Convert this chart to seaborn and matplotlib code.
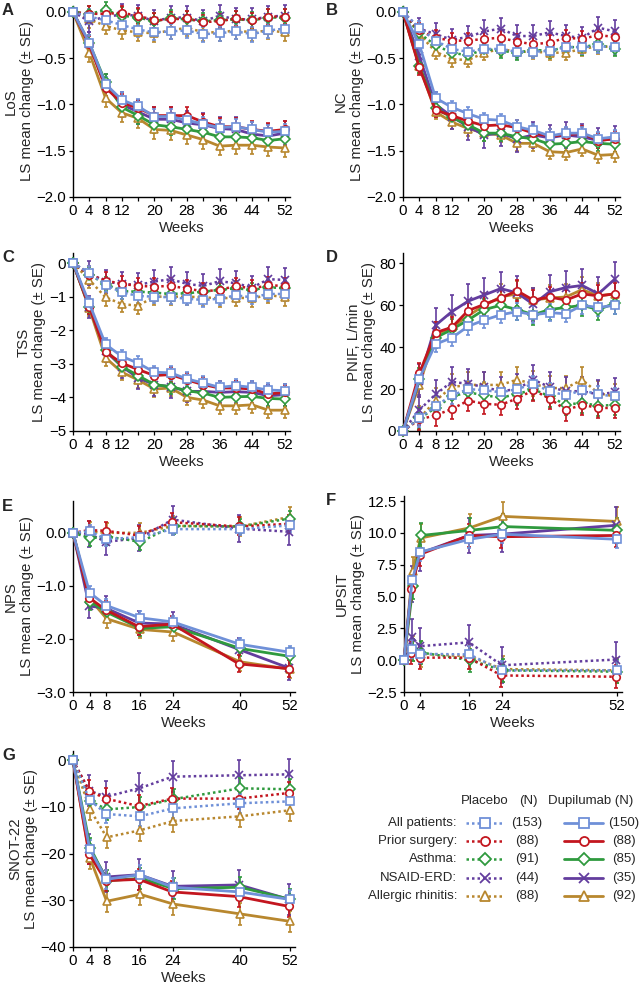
import matplotlib.pyplot as plt
import numpy as np
import pandas as pd
import seaborn as sns
from matplotlib.lines import Line2D

sns.set_theme(style="ticks")
plt.rcParams['font.family'] = ['Liberation Sans', 'DejaVu Sans']
plt.rcParams['font.size'] = 10.8

groups = ["All patients", "Prior surgery", "Asthma", "NSAID-ERD", "Allergic rhinitis"]
n_placebo = [153, 88, 91, 44, 88]
n_dupilumab = [150, 88, 85, 35, 92]
colors = ["#6f90d8", "#c3161f", "#2f9a3e", "#633d9e", "#b8872e"]
markers = ["s", "o", "D", "x", "^"]

weeks_all = [0, 4, 8, 12, 16, 20, 24, 28, 32, 36, 40, 44, 48, 52]
weeks_nps = [0, 4, 8, 16, 24, 40, 52]
weeks_upsit = [0, 2, 4, 16, 24, 52]

# A - LoS
los_pbo = [
    [0, -0.05, -0.09, -0.14, -0.19, -0.22, -0.21, -0.20, -0.24, -0.23, -0.21, -0.24, -0.20, -0.18],
    [0, -0.02, -0.02, -0.01, -0.04, -0.09, -0.08, -0.07, -0.11, -0.10, -0.07, -0.09, -0.05, -0.05],
    [0, -0.02, 0.02, -0.04, -0.06, -0.10, -0.07, -0.08, -0.10, -0.09, -0.08, -0.09, -0.06, -0.06],
    [0, -0.10, -0.05, -0.03, -0.04, -0.10, -0.06, -0.06, -0.10, -0.04, -0.08, -0.08, -0.05, -0.04],
    [0, -0.08, -0.15, -0.20, -0.22, -0.23, -0.20, -0.17, -0.22, -0.22, -0.20, -0.22, -0.20, -0.22],
]
los_dup = [
    [0, -0.33, -0.78, -0.95, -1.02, -1.13, -1.13, -1.17, -1.21, -1.25, -1.24, -1.27, -1.30, -1.29],
    [0, -0.35, -0.82, -0.98, -1.04, -1.12, -1.12, -1.12, -1.19, -1.24, -1.24, -1.27, -1.29, -1.27],
    [0, -0.34, -0.76, -1.03, -1.12, -1.22, -1.24, -1.27, -1.30, -1.35, -1.35, -1.36, -1.39, -1.37],
    [0, -0.35, -0.80, -1.00, -1.08, -1.16, -1.16, -1.20, -1.22, -1.26, -1.27, -1.32, -1.34, -1.31],
    [0, -0.44, -0.93, -1.09, -1.15, -1.27, -1.28, -1.33, -1.38, -1.45, -1.44, -1.44, -1.46, -1.47],
]
los_se_pbo = [0.08, 0.08, 0.09, 0.12, 0.09]
los_se_dup = [0.08, 0.09, 0.09, 0.13, 0.10]

# B - NC
nc_pbo = [
    [0, -0.17, -0.31, -0.40, -0.43, -0.40, -0.40, -0.43, -0.43, -0.42, -0.38, -0.38, -0.37, -0.38],
    [0, -0.20, -0.28, -0.31, -0.31, -0.29, -0.28, -0.32, -0.35, -0.33, -0.28, -0.29, -0.25, -0.27],
    [0, -0.23, -0.36, -0.44, -0.47, -0.40, -0.42, -0.44, -0.41, -0.42, -0.38, -0.38, -0.35, -0.40],
    [0, -0.18, -0.24, -0.30, -0.27, -0.21, -0.18, -0.26, -0.26, -0.22, -0.26, -0.28, -0.17, -0.21],
    [0, -0.24, -0.43, -0.51, -0.52, -0.44, -0.40, -0.43, -0.43, -0.44, -0.44, -0.40, -0.37, -0.38],
]
nc_dup = [
    [0, -0.35, -0.93, -1.03, -1.10, -1.16, -1.17, -1.24, -1.28, -1.34, -1.31, -1.31, -1.37, -1.35],
    [0, -0.60, -1.06, -1.12, -1.18, -1.23, -1.22, -1.25, -1.31, -1.34, -1.33, -1.31, -1.39, -1.37],
    [0, -0.58, -1.04, -1.14, -1.22, -1.31, -1.31, -1.35, -1.37, -1.43, -1.42, -1.40, -1.42, -1.43],
    [0, -0.48, -1.00, -1.13, -1.24, -1.33, -1.31, -1.37, -1.33, -1.36, -1.33, -1.35, -1.39, -1.37],
    [0, -0.58, -1.08, -1.19, -1.26, -1.31, -1.33, -1.42, -1.42, -1.51, -1.52, -1.48, -1.55, -1.54],
]
nc_se_pbo = [0.07, 0.08, 0.08, 0.12, 0.08]
nc_se_dup = [0.07, 0.08, 0.08, 0.14, 0.08]

# C - TSS
tss_pbo = [
    [0, -0.30, -0.65, -0.87, -0.98, -1.00, -1.02, -1.06, -1.10, -1.06, -0.96, -1.02, -0.92, -0.92],
    [0, -0.35, -0.52, -0.62, -0.68, -0.70, -0.68, -0.76, -0.84, -0.80, -0.68, -0.76, -0.66, -0.68],
    [0, -0.35, -0.62, -0.84, -0.85, -0.88, -0.92, -0.90, -0.85, -0.80, -0.75, -0.80, -0.72, -0.75],
    [0, -0.30, -0.55, -0.62, -0.65, -0.55, -0.48, -0.62, -0.68, -0.54, -0.60, -0.73, -0.48, -0.50],
    [0, -0.50, -1.02, -1.22, -1.27, -1.00, -1.00, -1.00, -1.02, -1.05, -1.03, -1.05, -0.95, -1.02],
]
tss_dup = [
    [0, -1.20, -2.42, -2.78, -2.98, -3.25, -3.27, -3.45, -3.57, -3.70, -3.65, -3.70, -3.78, -3.80],
    [0, -1.30, -2.65, -2.98, -3.17, -3.35, -3.32, -3.48, -3.62, -3.72, -3.72, -3.75, -3.90, -3.85],
    [0, -1.30, -2.58, -3.08, -3.35, -3.62, -3.68, -3.80, -3.87, -4.00, -3.98, -3.97, -4.03, -4.05],
    [0, -1.30, -2.62, -3.08, -3.42, -3.62, -3.68, -3.82, -3.82, -3.85, -3.83, -3.85, -3.95, -3.92],
    [0, -1.35, -2.82, -3.25, -3.48, -3.75, -3.72, -4.00, -4.08, -4.25, -4.25, -4.22, -4.38, -4.38],
]
tss_se_pbo = [0.20, 0.25, 0.22, 0.35, 0.25]
tss_se_dup = [0.20, 0.22, 0.22, 0.33, 0.24]

# D - PNIF
pnif_pbo = [
    [0, 6, 12, 17, 20, 19.5, 18.5, 20, 22.5, 19, 17, 19.5, 17.5, 16.5],
    [0, 5.5, 7.5, 10.5, 14.5, 13, 12.5, 15.5, 19.5, 15.5, 10, 12.5, 11, 11],
    [0, 6, 11, 16.5, 18.5, 17, 16, 17.5, 20, 16.5, 12.5, 13.5, 12, 12.5],
    [0, 10, 17.5, 23.5, 22.5, 21, 19, 20, 24.5, 21, 19, 19, 17.5, 18.5],
    [0, 6, 14.5, 21, 22, 22, 22, 24.5, 22.5, 20.5, 20.5, 24.5, 18, 16.5],
]
pnif_dup = [
    [0, 25, 41.5, 44.5, 50, 53, 55.5, 57, 55.5, 56.5, 56, 60, 59, 60],
    [0, 27.5, 47, 49.5, 57.5, 60.5, 63.5, 67, 62.5, 64, 62.5, 65.5, 64.5, 65.5],
    [0, 25, 44.5, 48.5, 53, 58, 60, 58, 55.5, 58, 59, 60, 58, 61],
    [0, 24, 50.5, 57, 62, 65, 68, 66, 60.5, 66.5, 68.5, 69.5, 65.5, 72.5],
    [0, 22, 46, 49.5, 55, 60, 64, 65.5, 62.5, 63.5, 64, 67.5, 64.5, 65.5],
]
pnif_se_pbo = [4, 5, 5, 7, 6]
pnif_se_dup = [4, 5, 5, 8, 6]

# E - NPS
nps_pbo = [
    [0, 0.03, -0.12, -0.08, 0.07, 0.07, 0.14],
    [0, 0.05, 0.04, -0.05, 0.20, 0.12, 0.17],
    [0, -0.10, -0.07, -0.17, 0.13, 0.12, 0.27],
    [0, -0.02, -0.17, -0.10, 0.25, 0.08, 0.02],
    [0, 0.02, 0.00, 0.00, 0.13, 0.12, 0.30],
]
nps_dup = [
    [0, -1.13, -1.37, -1.60, -1.68, -2.10, -2.25],
    [0, -1.22, -1.45, -1.77, -1.72, -2.47, -2.56],
    [0, -1.30, -1.50, -1.80, -1.77, -2.18, -2.33],
    [0, -1.38, -1.42, -1.70, -1.72, -2.20, -2.55],
    [0, -1.25, -1.62, -1.82, -1.87, -2.43, -2.57],
]
nps_se_pbo = [0.12, 0.17, 0.15, 0.25, 0.18]
nps_se_dup = [0.12, 0.16, 0.15, 0.22, 0.17]

# F - UPSIT
upsit_pbo = [
    [0, 0.9, 0.5, 0.45, -0.8, -0.8],
    [0, 0.6, 0.2, 0.2, -1.2, -1.3],
    [0, 0.8, 0.6, 0.0, -0.8, -0.9],
    [0, 1.8, 1.1, 1.4, -0.4, 0.05],
    [0, 0.9, 0.5, 0.3, -0.7, -0.8],
]
upsit_dup = [
    [0, 6.3, 8.5, 9.5, 9.9, 9.5],
    [0, 5.6, 8.3, 9.8, 9.7, 9.8],
    [0, 5.8, 9.8, 10.2, 10.5, 10.2],
    [0, 6.0, 8.4, 9.8, 9.9, 10.6],
    [0, 7.0, 9.6, 10.4, 11.3, 10.9],
]
upsit_se_pbo = [0.7, 0.9, 0.9, 1.4, 1.0]
upsit_se_dup = [0.7, 0.9, 1.0, 1.4, 1.1]

# G - SNOT-22
snot_pbo = [
    [0, -8.5, -11.5, -12.0, -10.3, -9.2, -8.8],
    [0, -6.5, -8.2, -9.8, -8.2, -8.2, -7.0],
    [0, -8.8, -10.5, -10.0, -8.3, -6.0, -6.2],
    [0, -6.5, -7.8, -6.0, -3.5, -3.2, -3.0],
    [0, -10.5, -16.5, -15.0, -13.0, -12.0, -10.7],
]
snot_dup = [
    [0, -19.0, -25.5, -24.5, -27.2, -28.2, -29.8],
    [0, -20.0, -25.8, -25.5, -28.2, -29.2, -31.3],
    [0, -18.8, -25.8, -25.3, -27.5, -27.2, -29.8],
    [0, -19.0, -25.0, -24.5, -27.0, -26.7, -29.8],
    [0, -21.0, -30.2, -28.7, -30.8, -32.9, -34.5],
]
snot_se_pbo = [2.0, 2.3, 2.2, 3.3, 2.3]
snot_se_dup = [2.0, 2.3, 2.2, 3.3, 2.3]

W, H = 640, 984
fig = plt.figure(figsize=(6.4, 9.84), dpi=100)


def box(x0, x1, ytop, ybot):
    return [x0 / W, 1 - ybot / H, (x1 - x0) / W, (ybot - ytop) / H]


def fmt(v, d):
    s = f"{v:.{d}f}"
    return s.replace("-", "\u2212")


panels = [
    dict(letter="A", pos=box(73, 290, 5.5, 197), name="LoS", weeks=weeks_all,
         pbo=los_pbo, dup=los_dup, se_p=los_se_pbo, se_d=los_se_dup,
         ylim=(-2.0, 0.07), yticks=[-2.0, -1.5, -1.0, -0.5, 0.0], dec=1,
         xlab=[0, 4, 8, 12, 20, 28, 36, 44, 52], dodge=0),
    dict(letter="B", pos=box(403, 620, 5.5, 197), name="NC", weeks=weeks_all,
         pbo=nc_pbo, dup=nc_dup, se_p=nc_se_pbo, se_d=nc_se_dup,
         ylim=(-2.0, 0.07), yticks=[-2.0, -1.5, -1.0, -0.5, 0.0], dec=1,
         xlab=[0, 4, 8, 12, 20, 28, 36, 44, 52], dodge=0),
    dict(letter="C", pos=box(73, 290, 253, 431), name="TSS", weeks=weeks_all,
         pbo=tss_pbo, dup=tss_dup, se_p=tss_se_pbo, se_d=tss_se_dup,
         ylim=(-5, 0.3), yticks=[-5, -4, -3, -2, -1, 0], dec=0,
         xlab=[0, 4, 8, 12, 20, 28, 36, 44, 52], dodge=0),
    dict(letter="D", pos=box(403, 620, 253, 431), name="PNIF, L/min", weeks=weeks_all,
         pbo=pnif_pbo, dup=pnif_dup, se_p=pnif_se_pbo, se_d=pnif_se_dup,
         ylim=(0, 85), yticks=[0, 20, 40, 60, 80], dec=0,
         xlab=[0, 4, 8, 12, 20, 28, 36, 44, 52], dodge=0),
    dict(letter="E", pos=box(73, 295, 501, 692), name="NPS", weeks=weeks_nps,
         pbo=nps_pbo, dup=nps_dup, se_p=nps_se_pbo, se_d=nps_se_dup,
         ylim=(-3.0, 0.6), yticks=[-3.0, -2.0, -1.0, 0.0], dec=1,
         xlab=weeks_nps, dodge=0.35),
    dict(letter="F", pos=box(404, 622, 496, 692), name="UPSIT", weeks=weeks_upsit,
         pbo=upsit_pbo, dup=upsit_dup, se_p=upsit_se_pbo, se_d=upsit_se_dup,
         ylim=(-2.5, 12.9), yticks=[-2.5, 0.0, 2.5, 5.0, 7.5, 10.0, 12.5], dec=1,
         xlab=[0, 4, 16, 24, 52], dodge=0.35),
    dict(letter="G", pos=box(73, 295, 751, 947), name="SNOT-22", weeks=weeks_nps,
         pbo=snot_pbo, dup=snot_dup, se_p=snot_se_pbo, se_d=snot_se_dup,
         ylim=(-40, 2), yticks=[-40, -30, -20, -10, 0], dec=0,
         xlab=weeks_nps, dodge=0.35),
]

offsets = [0.0, -0.5, 0.5, -0.25, 0.25]
dotted = (0, (1, 1.2))

for p in panels:
    ax = fig.add_axes(p["pos"])
    wk = np.array(p["weeks"], dtype=float)
    for arm in ("pbo", "dup"):
        for i in reversed(range(5)):
            x = wk + offsets[i] * p["dodge"] * (wk > 0)
            y = np.array(p[arm][i], dtype=float)
            se = p["se_p"][i] if arm == "pbo" else p["se_d"][i]
            err = np.where(wk > 0, se, 0.0)
            c = colors[i]
            ax.errorbar(x, y, yerr=err, fmt="none", ecolor=c, elinewidth=1.2,
                        capsize=1.7, capthick=1.2, clip_on=False, zorder=2)
            sns.lineplot(x=x, y=y, ax=ax, color=c, marker=markers[i],
                         markersize=5.4, mfc="white", mec=c, mew=1.2,
                         linewidth=1.8 if arm == "pbo" else 2.0,
                         linestyle=dotted if arm == "pbo" else "-",
                         errorbar=None, clip_on=False, zorder=3, legend=False)
    ax.set_xlim(0, 53.3)
    ax.set_ylim(*p["ylim"])
    ax.set_yticks(p["yticks"], labels=[fmt(v, p["dec"]) for v in p["yticks"]])
    ticks = p["weeks"] if p["weeks"] is not weeks_upsit else [0, 4, 16, 24, 52]
    ax.set_xticks(ticks, labels=[str(t) if t in p["xlab"] else "" for t in ticks])
    ax.tick_params(labelsize=10.8, length=3, width=0.9, pad=2, colors="black")
    ax.set_xlabel("Weeks", fontsize=10.8, labelpad=2)
    ax.set_ylabel(p["name"] + "\nLS mean change (\u00b1 SE)", fontsize=10.8,
                  linespacing=1.15, labelpad=2)
    for s in ("left", "bottom"):
        ax.spines[s].set_linewidth(1.0)
        ax.spines[s].set_color("black")
    sns.despine(ax=ax)
    ax.grid(False)
    lx = 2 if p["pos"][0] < 0.5 else 326
    ly = H * (1 - p["pos"][1] - p["pos"][3]) + 5
    fig.text(lx / W, 1 - ly / H, p["letter"], fontsize=12, fontweight="bold",
             va="center", ha="left")

# legend block
rows_y = [823, 841, 859, 878, 896]
fs = 9.5
fig.text(485 / W, 1 - 801 / H, "Placebo", ha="center", va="center", fontsize=fs)
fig.text(528 / W, 1 - 801 / H, "(N)", ha="center", va="center", fontsize=fs)
fig.text(591 / W, 1 - 801 / H, "Dupilumab (N)", ha="center", va="center", fontsize=fs)
for i, g in enumerate(groups):
    yy = 1 - rows_y[i] / H
    fig.text(457 / W, yy, g + ":", ha="right", va="center", fontsize=fs)
    fig.text(527 / W, yy, f"({n_placebo[i]})", ha="center", va="center", fontsize=fs)
    fig.text(624 / W, yy, f"({n_dupilumab[i]})", ha="center", va="center", fontsize=fs)
    for (x0, x1, ls, lw) in ((466, 504, dotted, 1.8), (564, 603, "-", 2.0)):
        fig.add_artist(Line2D([x0 / W, (x0 + x1) / 2 / W, x1 / W], [yy, yy, yy],
                              color=colors[i], linestyle=ls, linewidth=lw,
                              marker=markers[i], markevery=[1], markersize=6.5,
                              mfc="white", mec=colors[i], mew=1.3))

fig.savefig("out.png", dpi=100)
